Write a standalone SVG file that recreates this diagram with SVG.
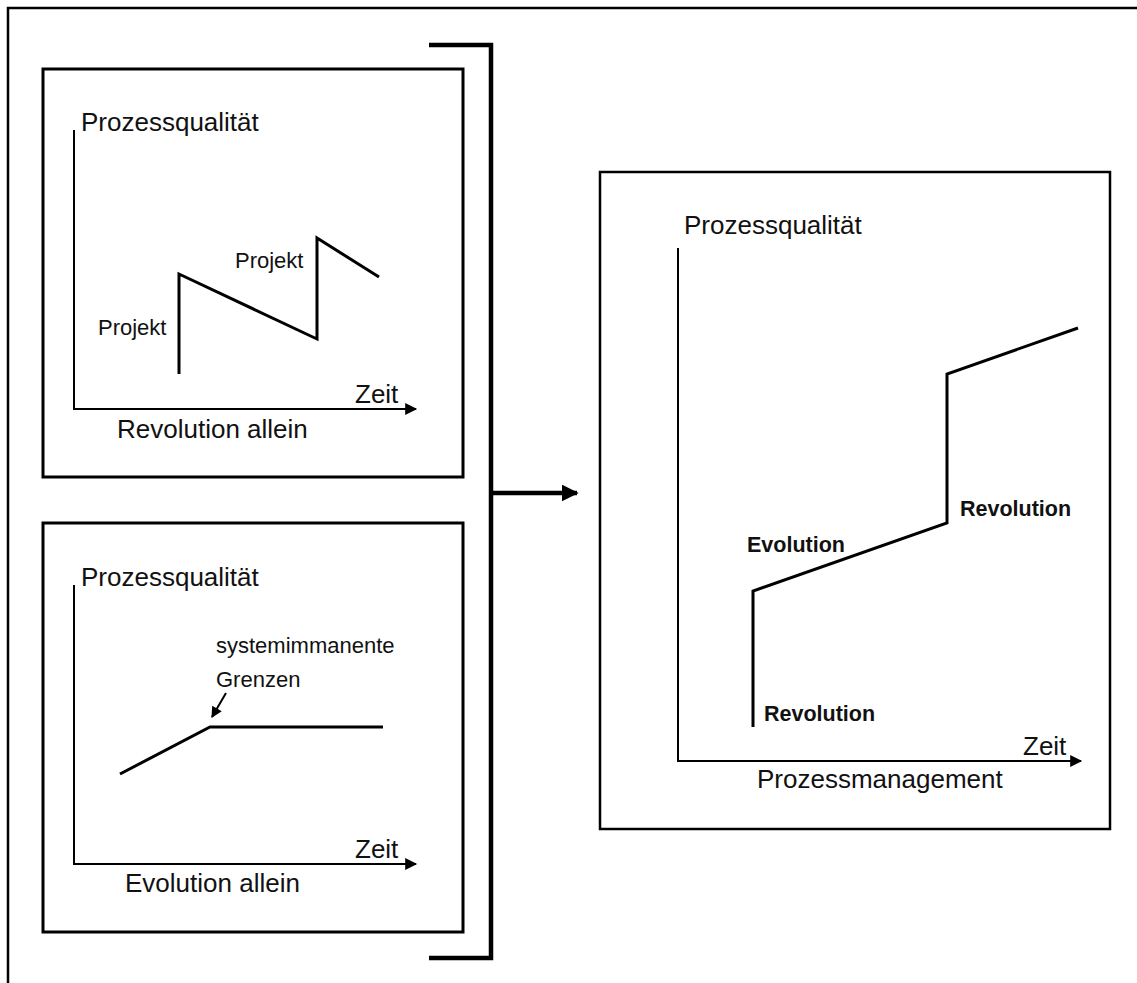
<svg xmlns="http://www.w3.org/2000/svg" width="1137" height="983" viewBox="0 0 1137 983">
  <defs>
    <style>
      .frame { fill: none; stroke: #000; stroke-width: 2.5; }
      .box { fill: #fff; stroke: #000; stroke-width: 3; }
      .axis { fill: none; stroke: #000; stroke-width: 2; }
      .curve { fill: none; stroke: #000; stroke-width: 3; stroke-linejoin: miter; }
      .bracket { fill: none; stroke: #000; stroke-width: 4.5; }
      .t { font-family: "Liberation Sans", Arial, sans-serif; fill: #111; }
      .lg { font-size: 26px; }
      .sm { font-size: 22px; }
      .bd { font-size: 21.5px; font-weight: bold; }
    </style>
    <marker id="axisHead" viewBox="0 0 10 10" refX="9" refY="5" markerWidth="14" markerHeight="12" markerUnits="userSpaceOnUse" orient="auto">
      <path d="M0,0 L10,5 L0,10 Z" fill="#000"/>
    </marker>
    <marker id="bigHead" viewBox="0 0 10 10" refX="9" refY="5" markerWidth="17" markerHeight="17" markerUnits="userSpaceOnUse" orient="auto">
      <path d="M0,0 L10,5 L0,10 Z" fill="#000"/>
    </marker>
    <marker id="smallHead" viewBox="0 0 10 10" refX="9" refY="5" markerWidth="12" markerHeight="11" markerUnits="userSpaceOnUse" orient="auto">
      <path d="M0,0 L10,5 L0,10 Z" fill="#000"/>
    </marker>
  </defs>

  <rect width="1137" height="983" fill="#fff"/>

  <!-- outer frame, open to the right and bottom -->
  <path class="frame" d="M8,983 L8,8 L1137,8"/>

  <!-- chart: revolution only -->
  <g id="revolution-allein">
    <rect class="box" x="43" y="69" width="420" height="408"/>
    <path class="axis" d="M74,130 L74,409 L416,409" marker-end="url(#axisHead)"/>
    <text class="t lg" x="81" y="131">Prozessqualität</text>
    <text class="t lg" x="355" y="403">Zeit</text>
    <text class="t lg" x="117" y="438">Revolution allein</text>
    <path class="curve" d="M179,374 L179,274 L317,339 L317,238 L379,277"/>
    <text class="t sm" x="98" y="335">Projekt</text>
    <text class="t sm" x="235" y="268">Projekt</text>
  </g>

  <!-- chart: evolution only -->
  <g id="evolution-allein">
    <rect class="box" x="43" y="523" width="420" height="409"/>
    <path class="axis" d="M74,585 L74,864 L416,864" marker-end="url(#axisHead)"/>
    <text class="t lg" x="81" y="586">Prozessqualität</text>
    <text class="t lg" x="355" y="858">Zeit</text>
    <text class="t lg" x="125" y="892">Evolution allein</text>
    <path class="curve" d="M120,774 L210,727 L383,727"/>
    <text class="t sm" x="216" y="653">systemimmanente</text>
    <text class="t sm" x="216" y="687">Grenzen</text>
    <path class="axis" d="M226,693 L212,717" marker-end="url(#smallHead)"/>
  </g>

  <!-- chart: process management -->
  <g id="prozessmanagement">
    <rect class="box" x="600" y="172" width="510" height="657" style="stroke-width:2.5"/>
    <path class="axis" d="M678,248 L678,761 L1081,761" marker-end="url(#axisHead)"/>
    <text class="t lg" x="684" y="234">Prozessqualität</text>
    <text class="t lg" x="1023" y="755">Zeit</text>
    <text class="t lg" x="757" y="788">Prozessmanagement</text>
    <path class="curve" d="M753,727 L753,591 L947,523 L947,374 L1078,328"/>
    <text class="t bd" x="764" y="721">Revolution</text>
    <text class="t bd" x="747" y="552">Evolution</text>
    <text class="t bd" x="960" y="516">Revolution</text>
  </g>

  <!-- connectors: bracket joining both charts, arrow to the combined one -->
  <g id="connectors">
    <path class="bracket" d="M429,45 L491,45 L491,958 L429,958"/>
    <path class="bracket" d="M491,493 L577,493" marker-end="url(#bigHead)"/>
  </g>
</svg>
